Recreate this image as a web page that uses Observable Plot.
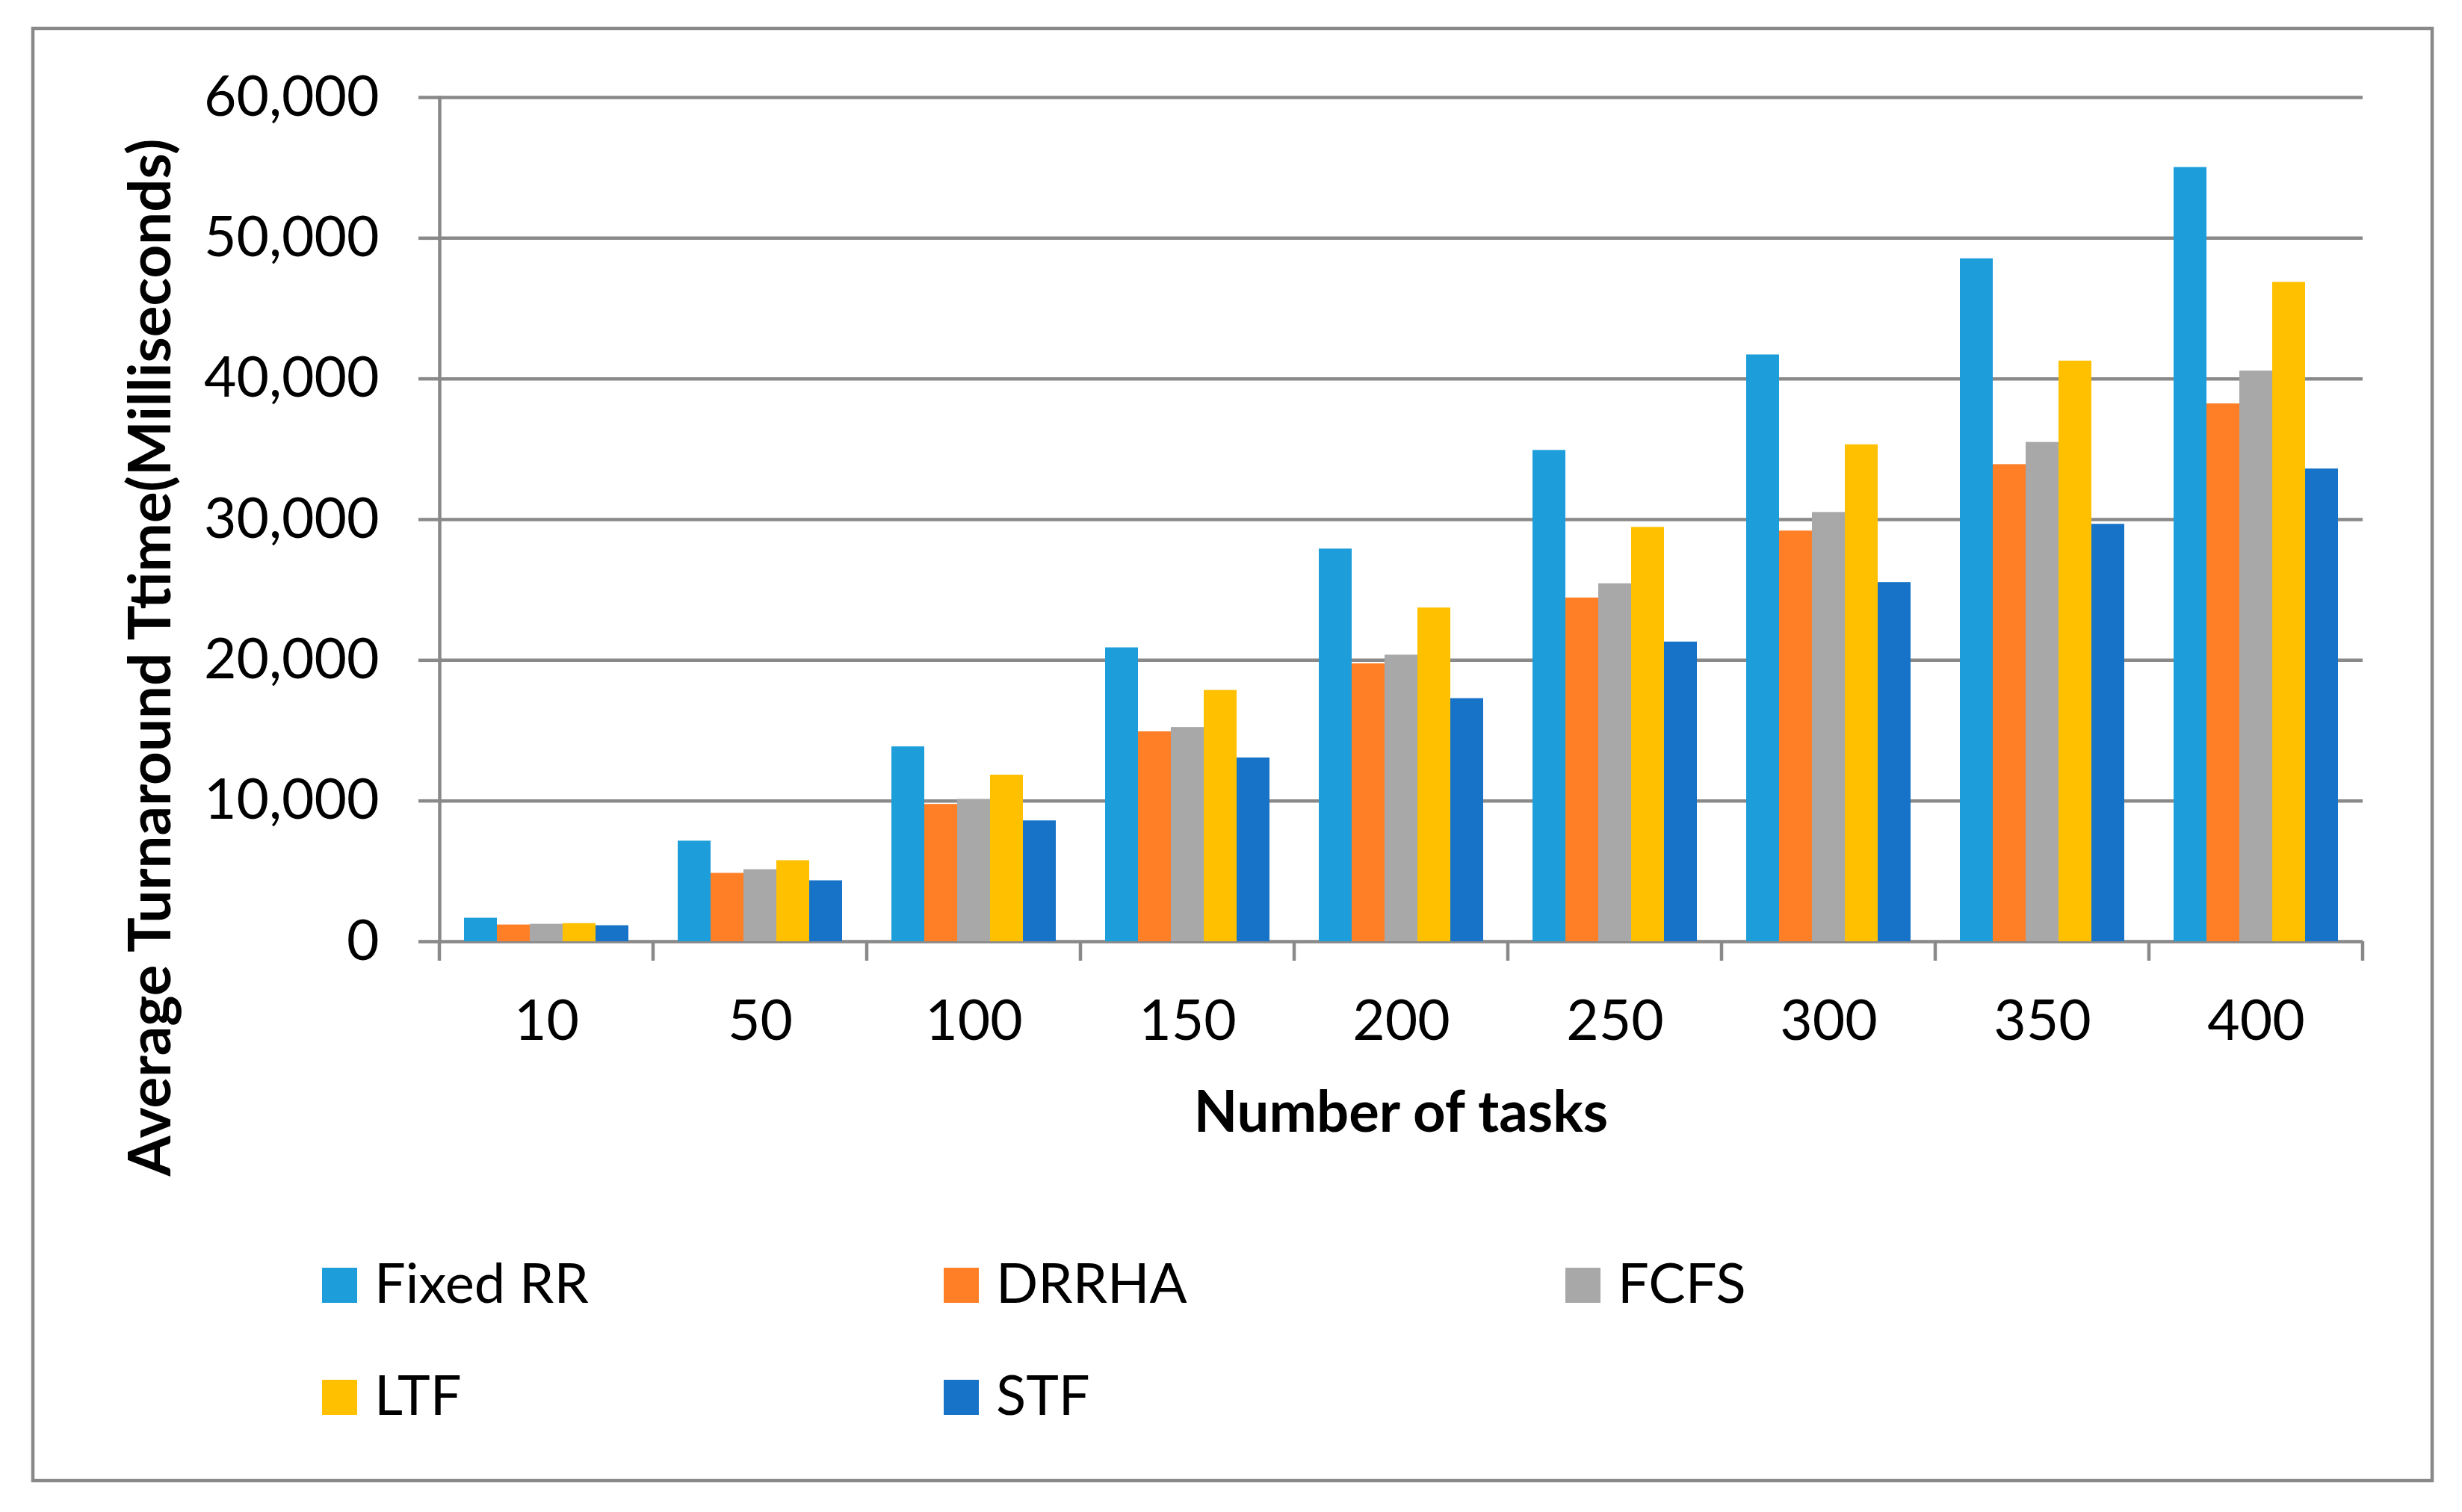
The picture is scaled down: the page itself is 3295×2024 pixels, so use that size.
<!DOCTYPE html>
<html>
<head>
<meta charset="utf-8">
<script src="https://cdn.jsdelivr.net/npm/d3@7"></script>
<script src="https://cdn.jsdelivr.net/npm/@observablehq/plot@0.6"></script>
<style>
  html, body { margin: 0; padding: 0; background: #fff; }
  #wrap { position: relative; width: 3295px; height: 2024px; overflow: hidden; background: #fff; }
  #wrap > svg { position: absolute; left: 0; top: 0; }
</style>
</head>
<body>
<div id="wrap"></div>
<script>
// ---- data ----
const categories = ["10", "50", "100", "150", "200", "250", "300", "350", "400"];
const seriesNames = ["Fixed RR", "DRRHA", "FCFS", "LTF", "STF"];
const fixedRR = [1670, 7150, 13850, 20890, 27910, 34920, 41710, 48540, 55030];
const drrha   = [1190, 4860,  9760, 14920, 19750, 24430, 29190, 33910, 38230];
const fcfs    = [1240, 5120, 10120, 15230, 20370, 25440, 30510, 35490, 40560];
const ltf     = [1290, 5760, 11840, 17860, 23720, 29450, 35320, 41270, 46870];
const stf     = [1140, 4330,  8590, 13060, 17280, 21300, 25530, 29670, 33600];
const seriesColors = ["#1D9DD9", "#FF7F27", "#A8A8A8", "#FFC000", "#1773C8"];
const yTicks = [0, 10000, 20000, 30000, 40000, 50000, 60000];
const xTitle = "Number of tasks";
const yTitle = "Average Turnaround Ttime(Milliseconds)";

const seriesValues = [fixedRR, drrha, fcfs, ltf, stf];
const table = categories.flatMap((c, i) =>
  seriesNames.map((s, j) => ({task: c, series: s, value: seriesValues[j][i]}))
);

const GRAY = "#898989";
const FONT = "Lato, 'Open Sans', sans-serif";
const W = 3295, H = 1560;
const fmt = d3.format(",");

const plot = Plot.plot({
  width: W,
  height: H,
  marginTop: 130,
  marginBottom: 300,
  marginLeft: 586,
  marginRight: 131,
  style: {fontFamily: FONT, fontSize: "75px", color: "#000", background: "transparent"},
  fx: {domain: categories, padding: 0, label: null},
  x: {domain: seriesNames, paddingInner: 0, paddingOuter: 0.735, axis: null},
  y: {domain: [0, 60000], label: null},
  color: {domain: seriesNames, range: seriesColors},
  marks: [
    Plot.gridY(yTicks, {stroke: GRAY, strokeOpacity: 1, strokeWidth: 4.5}),
    Plot.barY(table, {fx: "task", x: "series", y: "value", fill: "series"}),
    Plot.frame({anchor: "left", facetAnchor: "left", stroke: GRAY, strokeWidth: 4.5}),
    Plot.axisY(yTicks, {
      tickFormat: fmt, tickSize: 28, tickPadding: 53,
      stroke: GRAY, strokeWidth: 4.5, strokeOpacity: 1, fill: "#000", label: null
    }),
    Plot.axisFx({anchor: "bottom", tickSize: 0, tickPadding: 78, label: null, fill: "#000"})
  ]
});

// boundary ticks below the category axis, placed with Plot's own scales
const fxS = plot.scale("fx"), yS = plot.scale("y");
const bounds = categories.map(c => fxS.apply(c)).concat([fxS.apply(categories[categories.length - 1]) + fxS.bandwidth]);
const y0 = yS.apply(0);
d3.select(plot).append("g")
  .selectAll("line").data(bounds).join("line")
  .attr("x1", d => d).attr("x2", d => d)
  .attr("y1", y0).attr("y2", y0 + 26)
  .attr("stroke", GRAY).attr("stroke-width", 4.5);

const wrap = document.getElementById("wrap");

// overlay: outer border, axis titles, legend
const ov = d3.select(wrap).append("svg")
  .attr("width", W).attr("height", 2024)
  .style("font-family", FONT);
ov.append("rect").attr("x", 44).attr("y", 38).attr("width", 3255 - 44).attr("height", 1982 - 38)
  .attr("fill", "#fff").attr("stroke", GRAY).attr("stroke-width", 4.5);

wrap.appendChild(plot);

const ov2 = d3.select(wrap).append("svg")
  .attr("width", W).attr("height", 2024)
  .style("font-family", FONT);

ov2.append("text")
  .attr("transform", "translate(228,880) rotate(-90)")
  .attr("text-anchor", "middle")
  .attr("font-size", 78).attr("font-weight", "bold")
  .text(yTitle);

ov2.append("text")
  .attr("x", 1875).attr("y", 1515)
  .attr("text-anchor", "middle")
  .attr("font-size", 76).attr("font-weight", "bold")
  .text(xTitle);

const colX = [431, 1263, 2095];
const rowY = [1744, 1894];
const items = ov2.append("g").selectAll("g").data(seriesNames).join("g")
  .attr("transform", (d, i) => `translate(${colX[i % 3]},${rowY[Math.floor(i / 3)]})`);
items.append("rect").attr("x", 0).attr("y", -47).attr("width", 47).attr("height", 47)
  .attr("fill", (d, i) => seriesColors[i]);
items.append("text").attr("x", 70).attr("y", 0).attr("font-size", 74).text(d => d);
</script>
</body>
</html>
